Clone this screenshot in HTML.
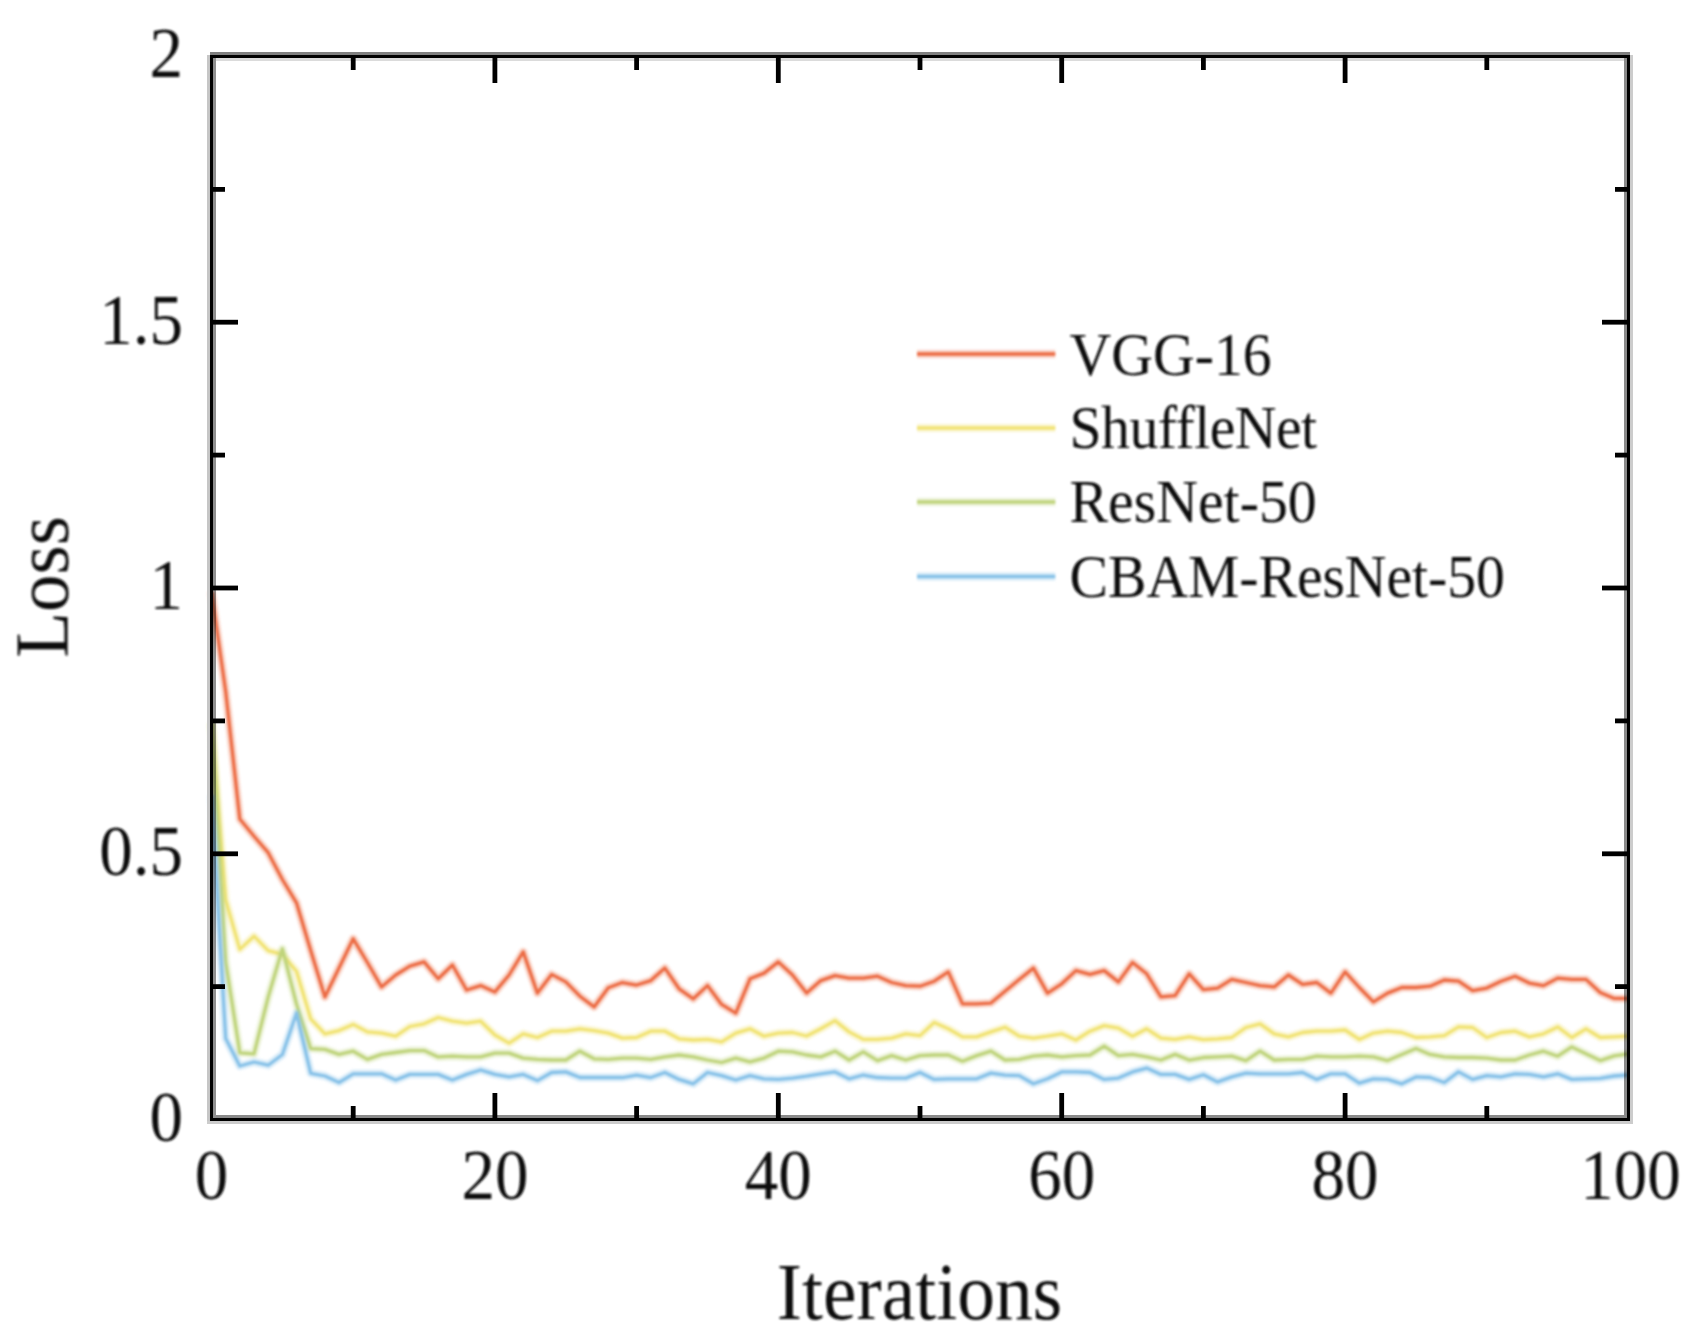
<!DOCTYPE html><html><head><meta charset="utf-8"><title>Loss</title><style>html,body{margin:0;padding:0;background:#fff}svg{display:block}text{font-family:"Liberation Serif","Times New Roman",serif;fill:#111}</style></head><body>
<svg width="1691" height="1343" viewBox="0 0 1691 1343">
<rect width="1691" height="1343" fill="#fff"/>
<defs><filter id="sf" x="-5%" y="-5%" width="110%" height="110%"><feGaussianBlur stdDeviation="0.85"/></filter></defs>
<g fill="none" stroke-linejoin="round" stroke-linecap="butt" filter="url(#sf)">
<polyline points="211.5,592.0 225.7,691.5 239.8,819.0 254.0,836.2 268.2,852.7 282.4,879.5 296.5,902.8 310.7,950.5 324.9,996.9 339.0,968.1 353.2,938.8 367.4,962.5 381.5,986.9 395.7,975.0 409.9,966.2 424.1,961.9 438.2,978.8 452.4,965.0 466.6,990.0 480.7,985.6 494.9,991.9 509.1,975.0 523.2,951.9 537.4,993.1 551.6,974.4 565.8,981.9 579.9,996.2 594.1,1006.9 608.3,987.8 622.4,982.5 636.6,985.0 650.8,980.6 664.9,968.1 679.1,988.8 693.3,998.8 707.5,985.6 721.6,1004.4 735.8,1013.1 750.0,978.8 764.1,973.1 778.3,961.9 792.5,975.0 806.6,993.1 820.8,980.6 835.0,975.6 849.1,978.1 863.3,978.1 877.5,976.2 891.7,982.5 905.8,985.6 920.0,986.2 934.2,981.2 948.3,971.9 962.5,1003.8 976.7,1003.8 990.9,1003.1 1005.0,991.2 1019.2,979.4 1033.4,968.1 1047.5,993.1 1061.7,983.8 1075.9,970.6 1090.0,974.4 1104.2,970.6 1118.4,981.9 1132.5,962.5 1146.7,973.8 1160.9,996.9 1175.1,995.6 1189.2,973.8 1203.4,989.6 1217.6,988.1 1231.7,979.4 1245.9,982.5 1260.1,985.6 1274.2,986.9 1288.4,975.0 1302.6,984.4 1316.8,982.5 1330.9,993.1 1345.1,971.9 1359.3,987.5 1373.4,1001.9 1387.6,993.1 1401.8,987.5 1416.0,987.5 1430.1,986.2 1444.3,980.0 1458.5,981.2 1472.6,990.6 1486.8,988.1 1501.0,981.2 1515.1,976.2 1529.3,983.1 1543.5,985.6 1557.7,978.1 1571.8,979.4 1586.0,979.4 1600.2,992.5 1614.3,998.4 1628.5,998.5" stroke="#EC6C44" stroke-opacity="0.28" stroke-width="8.5"/>
<polyline points="211.5,592.0 225.7,691.5 239.8,819.0 254.0,836.2 268.2,852.7 282.4,879.5 296.5,902.8 310.7,950.5 324.9,996.9 339.0,968.1 353.2,938.8 367.4,962.5 381.5,986.9 395.7,975.0 409.9,966.2 424.1,961.9 438.2,978.8 452.4,965.0 466.6,990.0 480.7,985.6 494.9,991.9 509.1,975.0 523.2,951.9 537.4,993.1 551.6,974.4 565.8,981.9 579.9,996.2 594.1,1006.9 608.3,987.8 622.4,982.5 636.6,985.0 650.8,980.6 664.9,968.1 679.1,988.8 693.3,998.8 707.5,985.6 721.6,1004.4 735.8,1013.1 750.0,978.8 764.1,973.1 778.3,961.9 792.5,975.0 806.6,993.1 820.8,980.6 835.0,975.6 849.1,978.1 863.3,978.1 877.5,976.2 891.7,982.5 905.8,985.6 920.0,986.2 934.2,981.2 948.3,971.9 962.5,1003.8 976.7,1003.8 990.9,1003.1 1005.0,991.2 1019.2,979.4 1033.4,968.1 1047.5,993.1 1061.7,983.8 1075.9,970.6 1090.0,974.4 1104.2,970.6 1118.4,981.9 1132.5,962.5 1146.7,973.8 1160.9,996.9 1175.1,995.6 1189.2,973.8 1203.4,989.6 1217.6,988.1 1231.7,979.4 1245.9,982.5 1260.1,985.6 1274.2,986.9 1288.4,975.0 1302.6,984.4 1316.8,982.5 1330.9,993.1 1345.1,971.9 1359.3,987.5 1373.4,1001.9 1387.6,993.1 1401.8,987.5 1416.0,987.5 1430.1,986.2 1444.3,980.0 1458.5,981.2 1472.6,990.6 1486.8,988.1 1501.0,981.2 1515.1,976.2 1529.3,983.1 1543.5,985.6 1557.7,978.1 1571.8,979.4 1586.0,979.4 1600.2,992.5 1614.3,998.4 1628.5,998.5" stroke="#EC6C44" stroke-width="3.3"/>
<polyline points="211.5,723.0 225.7,900.0 239.8,949.4 254.0,936.2 268.2,950.6 282.4,954.4 296.5,971.2 310.7,1018.8 324.9,1033.8 339.0,1030.6 353.2,1024.4 367.4,1031.9 381.5,1033.1 395.7,1036.2 409.9,1026.5 424.1,1023.8 438.2,1017.5 452.4,1021.2 466.6,1023.1 480.7,1021.2 494.9,1035.0 509.1,1043.1 523.2,1033.8 537.4,1037.5 551.6,1031.2 565.8,1031.2 579.9,1028.8 594.1,1030.6 608.3,1033.1 622.4,1038.1 636.6,1037.5 650.8,1031.2 664.9,1031.2 679.1,1038.8 693.3,1040.0 707.5,1039.4 721.6,1041.9 735.8,1033.1 750.0,1028.8 764.1,1036.2 778.3,1033.1 792.5,1032.5 806.6,1036.0 820.8,1028.8 835.0,1020.6 849.1,1031.9 863.3,1039.4 877.5,1039.4 891.7,1038.1 905.8,1033.8 920.0,1035.6 934.2,1022.5 948.3,1028.8 962.5,1036.9 976.7,1036.9 990.9,1031.9 1005.0,1027.2 1019.2,1036.2 1033.4,1038.1 1047.5,1036.2 1061.7,1033.8 1075.9,1040.0 1090.0,1031.2 1104.2,1025.6 1118.4,1028.1 1132.5,1036.2 1146.7,1028.8 1160.9,1038.1 1175.1,1039.4 1189.2,1036.9 1203.4,1039.6 1217.6,1038.8 1231.7,1037.5 1245.9,1027.5 1260.1,1023.8 1274.2,1033.8 1288.4,1036.9 1302.6,1032.5 1316.8,1031.2 1330.9,1031.2 1345.1,1030.0 1359.3,1039.4 1373.4,1033.1 1387.6,1031.2 1401.8,1032.5 1416.0,1037.5 1430.1,1036.9 1444.3,1035.6 1458.5,1026.9 1472.6,1027.5 1486.8,1037.5 1501.0,1032.5 1515.1,1031.2 1529.3,1036.9 1543.5,1033.8 1557.7,1026.9 1571.8,1037.5 1586.0,1028.8 1600.2,1037.5 1614.3,1036.9 1628.5,1036.2" stroke="#F1E373" stroke-opacity="0.28" stroke-width="8.5"/>
<polyline points="211.5,723.0 225.7,900.0 239.8,949.4 254.0,936.2 268.2,950.6 282.4,954.4 296.5,971.2 310.7,1018.8 324.9,1033.8 339.0,1030.6 353.2,1024.4 367.4,1031.9 381.5,1033.1 395.7,1036.2 409.9,1026.5 424.1,1023.8 438.2,1017.5 452.4,1021.2 466.6,1023.1 480.7,1021.2 494.9,1035.0 509.1,1043.1 523.2,1033.8 537.4,1037.5 551.6,1031.2 565.8,1031.2 579.9,1028.8 594.1,1030.6 608.3,1033.1 622.4,1038.1 636.6,1037.5 650.8,1031.2 664.9,1031.2 679.1,1038.8 693.3,1040.0 707.5,1039.4 721.6,1041.9 735.8,1033.1 750.0,1028.8 764.1,1036.2 778.3,1033.1 792.5,1032.5 806.6,1036.0 820.8,1028.8 835.0,1020.6 849.1,1031.9 863.3,1039.4 877.5,1039.4 891.7,1038.1 905.8,1033.8 920.0,1035.6 934.2,1022.5 948.3,1028.8 962.5,1036.9 976.7,1036.9 990.9,1031.9 1005.0,1027.2 1019.2,1036.2 1033.4,1038.1 1047.5,1036.2 1061.7,1033.8 1075.9,1040.0 1090.0,1031.2 1104.2,1025.6 1118.4,1028.1 1132.5,1036.2 1146.7,1028.8 1160.9,1038.1 1175.1,1039.4 1189.2,1036.9 1203.4,1039.6 1217.6,1038.8 1231.7,1037.5 1245.9,1027.5 1260.1,1023.8 1274.2,1033.8 1288.4,1036.9 1302.6,1032.5 1316.8,1031.2 1330.9,1031.2 1345.1,1030.0 1359.3,1039.4 1373.4,1033.1 1387.6,1031.2 1401.8,1032.5 1416.0,1037.5 1430.1,1036.9 1444.3,1035.6 1458.5,1026.9 1472.6,1027.5 1486.8,1037.5 1501.0,1032.5 1515.1,1031.2 1529.3,1036.9 1543.5,1033.8 1557.7,1026.9 1571.8,1037.5 1586.0,1028.8 1600.2,1037.5 1614.3,1036.9 1628.5,1036.2" stroke="#F1E373" stroke-width="3.3"/>
<polyline points="211.5,723.0 225.7,962.0 239.8,1052.8 254.0,1053.8 268.2,997.0 282.4,948.8 296.5,1004.0 310.7,1048.6 324.9,1049.4 339.0,1054.4 353.2,1051.2 367.4,1059.4 381.5,1054.4 395.7,1052.5 409.9,1050.6 424.1,1050.6 438.2,1056.9 452.4,1056.2 466.6,1056.9 480.7,1056.9 494.9,1053.1 509.1,1053.1 523.2,1058.1 537.4,1059.4 551.6,1060.0 565.8,1060.0 579.9,1051.2 594.1,1058.8 608.3,1059.4 622.4,1058.1 636.6,1058.1 650.8,1059.4 664.9,1056.9 679.1,1055.0 693.3,1056.9 707.5,1060.0 721.6,1062.5 735.8,1058.1 750.0,1061.9 764.1,1058.1 778.3,1051.2 792.5,1051.9 806.6,1055.0 820.8,1056.9 835.0,1051.2 849.1,1060.0 863.3,1051.9 877.5,1060.6 891.7,1055.6 905.8,1060.0 920.0,1055.6 934.2,1055.0 948.3,1055.0 962.5,1061.2 976.7,1055.6 990.9,1051.2 1005.0,1060.0 1019.2,1059.4 1033.4,1056.2 1047.5,1055.0 1061.7,1056.9 1075.9,1055.6 1090.0,1055.0 1104.2,1046.2 1118.4,1055.6 1132.5,1054.4 1146.7,1056.9 1160.9,1060.0 1175.1,1054.4 1189.2,1060.0 1203.4,1057.5 1217.6,1056.9 1231.7,1056.2 1245.9,1060.6 1260.1,1051.2 1274.2,1060.0 1288.4,1059.4 1302.6,1059.4 1316.8,1056.2 1330.9,1056.9 1345.1,1056.9 1359.3,1056.2 1373.4,1056.9 1387.6,1060.6 1401.8,1054.4 1416.0,1048.5 1430.1,1054.4 1444.3,1056.9 1458.5,1057.5 1472.6,1057.5 1486.8,1058.1 1501.0,1060.0 1515.1,1060.0 1529.3,1055.0 1543.5,1051.2 1557.7,1056.2 1571.8,1046.9 1586.0,1053.8 1600.2,1060.6 1614.3,1055.9 1628.5,1053.8" stroke="#BFD47C" stroke-opacity="0.28" stroke-width="8.5"/>
<polyline points="211.5,723.0 225.7,962.0 239.8,1052.8 254.0,1053.8 268.2,997.0 282.4,948.8 296.5,1004.0 310.7,1048.6 324.9,1049.4 339.0,1054.4 353.2,1051.2 367.4,1059.4 381.5,1054.4 395.7,1052.5 409.9,1050.6 424.1,1050.6 438.2,1056.9 452.4,1056.2 466.6,1056.9 480.7,1056.9 494.9,1053.1 509.1,1053.1 523.2,1058.1 537.4,1059.4 551.6,1060.0 565.8,1060.0 579.9,1051.2 594.1,1058.8 608.3,1059.4 622.4,1058.1 636.6,1058.1 650.8,1059.4 664.9,1056.9 679.1,1055.0 693.3,1056.9 707.5,1060.0 721.6,1062.5 735.8,1058.1 750.0,1061.9 764.1,1058.1 778.3,1051.2 792.5,1051.9 806.6,1055.0 820.8,1056.9 835.0,1051.2 849.1,1060.0 863.3,1051.9 877.5,1060.6 891.7,1055.6 905.8,1060.0 920.0,1055.6 934.2,1055.0 948.3,1055.0 962.5,1061.2 976.7,1055.6 990.9,1051.2 1005.0,1060.0 1019.2,1059.4 1033.4,1056.2 1047.5,1055.0 1061.7,1056.9 1075.9,1055.6 1090.0,1055.0 1104.2,1046.2 1118.4,1055.6 1132.5,1054.4 1146.7,1056.9 1160.9,1060.0 1175.1,1054.4 1189.2,1060.0 1203.4,1057.5 1217.6,1056.9 1231.7,1056.2 1245.9,1060.6 1260.1,1051.2 1274.2,1060.0 1288.4,1059.4 1302.6,1059.4 1316.8,1056.2 1330.9,1056.9 1345.1,1056.9 1359.3,1056.2 1373.4,1056.9 1387.6,1060.6 1401.8,1054.4 1416.0,1048.5 1430.1,1054.4 1444.3,1056.9 1458.5,1057.5 1472.6,1057.5 1486.8,1058.1 1501.0,1060.0 1515.1,1060.0 1529.3,1055.0 1543.5,1051.2 1557.7,1056.2 1571.8,1046.9 1586.0,1053.8 1600.2,1060.6 1614.3,1055.9 1628.5,1053.8" stroke="#BFD47C" stroke-width="3.3"/>
<polyline points="211.5,795.0 225.7,1038.6 239.8,1066.0 254.0,1062.0 268.2,1065.2 282.4,1054.5 296.5,1013.0 310.7,1073.4 324.9,1076.0 339.0,1082.5 353.2,1073.8 367.4,1073.8 381.5,1073.8 395.7,1080.0 409.9,1074.4 424.1,1074.4 438.2,1074.4 452.4,1080.0 466.6,1074.4 480.7,1070.0 494.9,1074.4 509.1,1076.9 523.2,1074.4 537.4,1080.6 551.6,1072.5 565.8,1071.9 579.9,1077.5 594.1,1077.5 608.3,1077.5 622.4,1077.5 636.6,1075.0 650.8,1077.5 664.9,1072.5 679.1,1079.4 693.3,1083.8 707.5,1072.5 721.6,1075.6 735.8,1080.0 750.0,1075.6 764.1,1078.8 778.3,1079.4 792.5,1078.1 806.6,1076.2 820.8,1073.8 835.0,1071.9 849.1,1078.8 863.3,1075.0 877.5,1077.5 891.7,1078.1 905.8,1078.1 920.0,1072.5 934.2,1079.4 948.3,1078.8 962.5,1078.8 976.7,1078.8 990.9,1073.1 1005.0,1075.2 1019.2,1075.6 1033.4,1083.8 1047.5,1078.8 1061.7,1071.9 1075.9,1071.9 1090.0,1072.5 1104.2,1079.4 1118.4,1078.1 1132.5,1071.9 1146.7,1068.1 1160.9,1074.4 1175.1,1074.4 1189.2,1079.4 1203.4,1074.8 1217.6,1081.9 1231.7,1076.9 1245.9,1073.1 1260.1,1073.8 1274.2,1073.8 1288.4,1073.8 1302.6,1072.5 1316.8,1079.4 1330.9,1073.8 1345.1,1073.8 1359.3,1083.1 1373.4,1078.8 1387.6,1079.4 1401.8,1083.8 1416.0,1076.9 1430.1,1077.5 1444.3,1082.5 1458.5,1071.9 1472.6,1079.4 1486.8,1075.6 1501.0,1076.9 1515.1,1073.8 1529.3,1074.4 1543.5,1076.9 1557.7,1073.8 1571.8,1079.4 1586.0,1078.8 1600.2,1078.4 1614.3,1076.0 1628.5,1075.0" stroke="#86C1E8" stroke-opacity="0.28" stroke-width="8.5"/>
<polyline points="211.5,795.0 225.7,1038.6 239.8,1066.0 254.0,1062.0 268.2,1065.2 282.4,1054.5 296.5,1013.0 310.7,1073.4 324.9,1076.0 339.0,1082.5 353.2,1073.8 367.4,1073.8 381.5,1073.8 395.7,1080.0 409.9,1074.4 424.1,1074.4 438.2,1074.4 452.4,1080.0 466.6,1074.4 480.7,1070.0 494.9,1074.4 509.1,1076.9 523.2,1074.4 537.4,1080.6 551.6,1072.5 565.8,1071.9 579.9,1077.5 594.1,1077.5 608.3,1077.5 622.4,1077.5 636.6,1075.0 650.8,1077.5 664.9,1072.5 679.1,1079.4 693.3,1083.8 707.5,1072.5 721.6,1075.6 735.8,1080.0 750.0,1075.6 764.1,1078.8 778.3,1079.4 792.5,1078.1 806.6,1076.2 820.8,1073.8 835.0,1071.9 849.1,1078.8 863.3,1075.0 877.5,1077.5 891.7,1078.1 905.8,1078.1 920.0,1072.5 934.2,1079.4 948.3,1078.8 962.5,1078.8 976.7,1078.8 990.9,1073.1 1005.0,1075.2 1019.2,1075.6 1033.4,1083.8 1047.5,1078.8 1061.7,1071.9 1075.9,1071.9 1090.0,1072.5 1104.2,1079.4 1118.4,1078.1 1132.5,1071.9 1146.7,1068.1 1160.9,1074.4 1175.1,1074.4 1189.2,1079.4 1203.4,1074.8 1217.6,1081.9 1231.7,1076.9 1245.9,1073.1 1260.1,1073.8 1274.2,1073.8 1288.4,1073.8 1302.6,1072.5 1316.8,1079.4 1330.9,1073.8 1345.1,1073.8 1359.3,1083.1 1373.4,1078.8 1387.6,1079.4 1401.8,1083.8 1416.0,1076.9 1430.1,1077.5 1444.3,1082.5 1458.5,1071.9 1472.6,1079.4 1486.8,1075.6 1501.0,1076.9 1515.1,1073.8 1529.3,1074.4 1543.5,1076.9 1557.7,1073.8 1571.8,1079.4 1586.0,1078.8 1600.2,1078.4 1614.3,1076.0 1628.5,1075.0" stroke="#86C1E8" stroke-width="3.3"/>
</g>
<g shape-rendering="crispEdges">
<rect x="207" y="55" width="3" height="1069" fill="#c6c6c6"/><rect x="213" y="58" width="3" height="1060" fill="#000" fill-opacity="0.44"/>
<rect x="1624" y="58" width="3" height="1060" fill="#000" fill-opacity="0.46"/><rect x="1630" y="55" width="3" height="1069" fill="#cccccc"/>
<rect x="210" y="52" width="1420" height="3" fill="#808080"/><rect x="216" y="58" width="1408" height="3" fill="#000" fill-opacity="0.14"/>
<rect x="216" y="1115" width="1408" height="3" fill="#000" fill-opacity="0.46"/><rect x="207" y="1121" width="1423" height="3" fill="#cccccc"/>
</g>
<g stroke="#000" stroke-width="4.8">
<line x1="213" y1="986.6" x2="225.0" y2="986.6"/>
<line x1="1627" y1="986.6" x2="1615.0" y2="986.6"/>
<line x1="213" y1="853.8" x2="238.0" y2="853.8"/>
<line x1="1627" y1="853.8" x2="1602.0" y2="853.8"/>
<line x1="213" y1="720.9" x2="225.0" y2="720.9"/>
<line x1="1627" y1="720.9" x2="1615.0" y2="720.9"/>
<line x1="213" y1="588.0" x2="238.0" y2="588.0"/>
<line x1="1627" y1="588.0" x2="1602.0" y2="588.0"/>
<line x1="213" y1="455.1" x2="225.0" y2="455.1"/>
<line x1="1627" y1="455.1" x2="1615.0" y2="455.1"/>
<line x1="213" y1="322.2" x2="238.0" y2="322.2"/>
<line x1="1627" y1="322.2" x2="1602.0" y2="322.2"/>
<line x1="213" y1="189.4" x2="225.0" y2="189.4"/>
<line x1="1627" y1="189.4" x2="1615.0" y2="189.4"/>
<line x1="353.2" y1="1118" x2="353.2" y2="1106.0"/>
<line x1="353.2" y1="58" x2="353.2" y2="70.0"/>
<line x1="494.9" y1="1118" x2="494.9" y2="1093.0"/>
<line x1="494.9" y1="58" x2="494.9" y2="83.0"/>
<line x1="636.6" y1="1118" x2="636.6" y2="1106.0"/>
<line x1="636.6" y1="58" x2="636.6" y2="70.0"/>
<line x1="778.3" y1="1118" x2="778.3" y2="1093.0"/>
<line x1="778.3" y1="58" x2="778.3" y2="83.0"/>
<line x1="920.0" y1="1118" x2="920.0" y2="1106.0"/>
<line x1="920.0" y1="58" x2="920.0" y2="70.0"/>
<line x1="1061.7" y1="1118" x2="1061.7" y2="1093.0"/>
<line x1="1061.7" y1="58" x2="1061.7" y2="83.0"/>
<line x1="1203.4" y1="1118" x2="1203.4" y2="1106.0"/>
<line x1="1203.4" y1="58" x2="1203.4" y2="70.0"/>
<line x1="1345.1" y1="1118" x2="1345.1" y2="1093.0"/>
<line x1="1345.1" y1="58" x2="1345.1" y2="83.0"/>
<line x1="1486.8" y1="1118" x2="1486.8" y2="1106.0"/>
<line x1="1486.8" y1="58" x2="1486.8" y2="70.0"/>
</g>
<g shape-rendering="crispEdges">
<rect x="210" y="55" width="3" height="1066" fill="#000"/><rect x="1627" y="55" width="3" height="1066" fill="#000"/>
<rect x="210" y="55" width="1420" height="3" fill="#000"/><rect x="210" y="1118" width="1420" height="3" fill="#000"/>
</g>
<g filter="url(#sf)">
<g font-size="67">
<text transform="translate(211.5,1199) scale(1,1.065)" text-anchor="middle">0</text>
<text transform="translate(494.9,1199) scale(1,1.065)" text-anchor="middle">20</text>
<text transform="translate(778.3,1199) scale(1,1.065)" text-anchor="middle">40</text>
<text transform="translate(1061.7,1199) scale(1,1.065)" text-anchor="middle">60</text>
<text transform="translate(1345.1,1199) scale(1,1.065)" text-anchor="middle">80</text>
<text transform="translate(1630.5,1199) scale(1,1.065)" text-anchor="middle">100</text>
<text transform="translate(183,1141.0) scale(1,1.065)" text-anchor="end">0</text>
<text transform="translate(183,875.2) scale(1,1.065)" text-anchor="end">0.5</text>
<text transform="translate(183,609.5) scale(1,1.065)" text-anchor="end">1</text>
<text transform="translate(183,343.8) scale(1,1.065)" text-anchor="end">1.5</text>
<text transform="translate(183,76.5) scale(1,1.065)" text-anchor="end">2</text>
</g>
<text transform="translate(919.5,1318.8) scale(1,1.065)" font-size="75.6" text-anchor="middle">Iterations</text>
<text transform="translate(67.3,587) rotate(-90) scale(1,1.01)" font-size="75" text-anchor="middle">Loss</text>
<line x1="917" y1="354.0" x2="1055.3" y2="354.0" stroke="#EC6C44" stroke-opacity="0.28" stroke-width="8.5"/>
<line x1="917" y1="354.0" x2="1055.3" y2="354.0" stroke="#EC6C44" stroke-width="3.3"/>
<text transform="translate(1069.5,375.2) scale(1,1.045)" font-size="57.8" letter-spacing="0">VGG-16</text>
<line x1="917" y1="428.0" x2="1055.3" y2="428.0" stroke="#F1E373" stroke-opacity="0.28" stroke-width="8.5"/>
<line x1="917" y1="428.0" x2="1055.3" y2="428.0" stroke="#F1E373" stroke-width="3.3"/>
<text transform="translate(1069.5,448.3) scale(1,1.045)" font-size="57.8" letter-spacing="-0.55">ShuffleNet</text>
<line x1="917" y1="502.0" x2="1055.3" y2="502.0" stroke="#BFD47C" stroke-opacity="0.28" stroke-width="8.5"/>
<line x1="917" y1="502.0" x2="1055.3" y2="502.0" stroke="#BFD47C" stroke-width="3.3"/>
<text transform="translate(1069.5,522.4) scale(1,1.045)" font-size="57.8" letter-spacing="0">ResNet-50</text>
<line x1="917" y1="576.5" x2="1055.3" y2="576.5" stroke="#86C1E8" stroke-opacity="0.28" stroke-width="8.5"/>
<line x1="917" y1="576.5" x2="1055.3" y2="576.5" stroke="#86C1E8" stroke-width="3.3"/>
<text transform="translate(1069.5,596.6) scale(1,1.045)" font-size="57.8" letter-spacing="-0.1">CBAM-ResNet-50</text>
</g>
</svg></body></html>
